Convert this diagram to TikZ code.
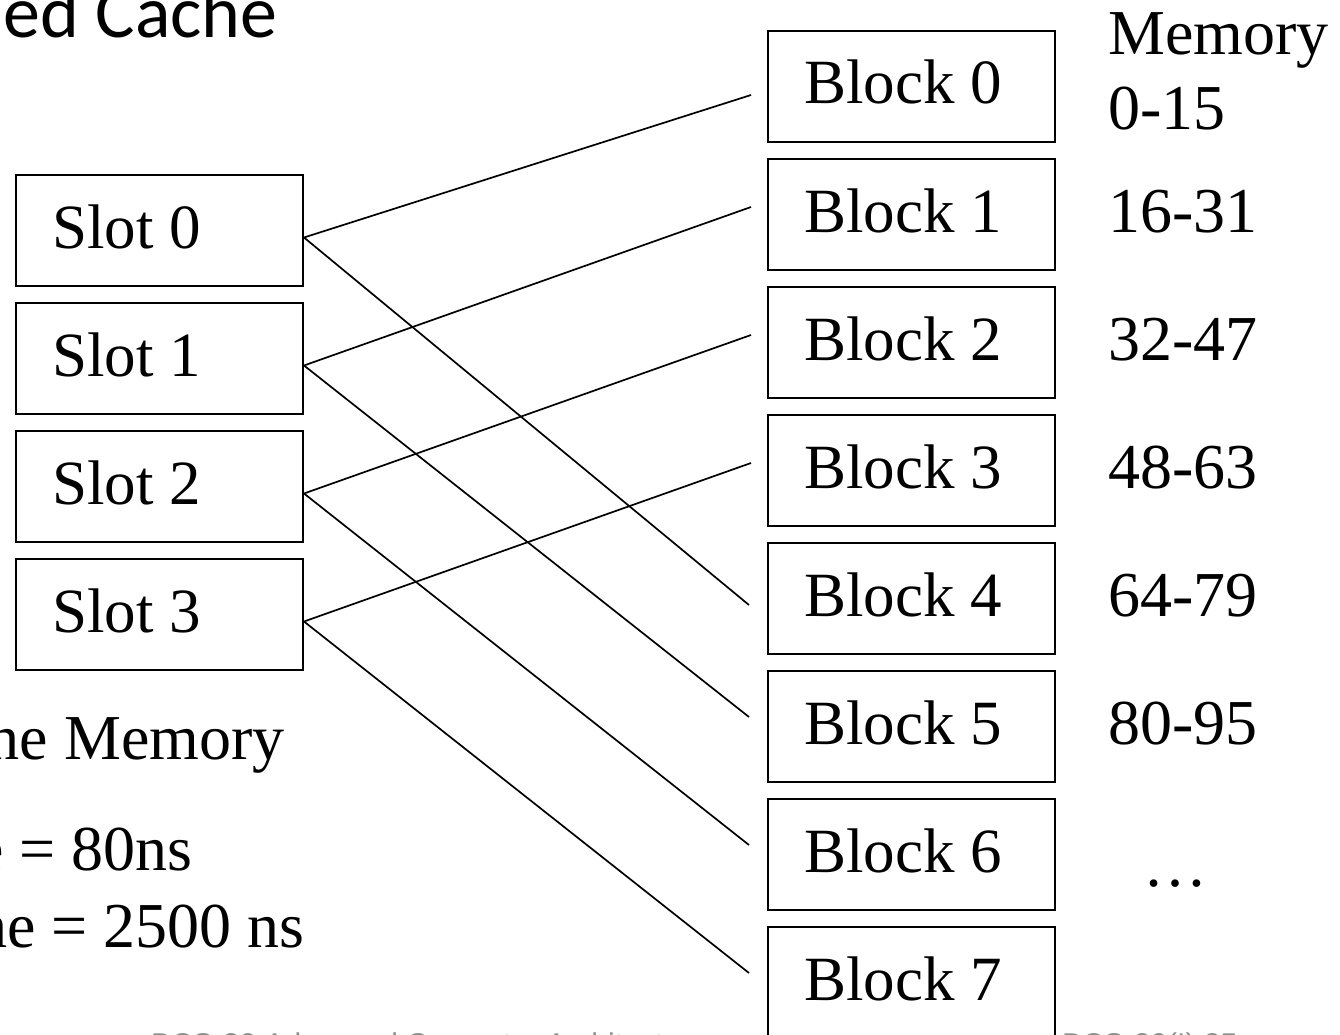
\documentclass[tikz,border=0pt]{standalone}
\usepackage{fontspec}
\usetikzlibrary{calc}
\setmainfont{Liberation Serif}
\newfontfamily\titlefont{Carlito}
\newfontfamily\footfont{Liberation Sans}
\definecolor{footgray}{HTML}{8C8C8C}
\begin{document}
\begin{tikzpicture}[x=1pt,y=-1pt,
  cell/.style={draw=black, line width=2pt, fill=white, rectangle,
    minimum height=111pt, text width=215pt, inner xsep=36pt, inner ysep=0pt,
    align=flush left, text height=35pt, text depth=0pt,
    font=\fontsize{63}{63}\selectfont},
  label/.style={inner sep=0pt, font=\fontsize{64}{64}\selectfont},
  foot/.style={inner sep=0pt, text=footgray, font=\footfont\fontsize{30}{30}\selectfont},
  wire/.style={line width=1.7pt}]
\useasboundingbox (0,0) rectangle (1340,1035);
\clip (0,0) rectangle (1340,1035);

% footer line (partly hidden behind the last block)
\node[foot, anchor=base west] (footl) at (151,1054) {BCS-30 Advanced Computer Architecture};
\node[foot, anchor=base west] (footr) at (1062,1054) {BCS-30(I) 25};

% title
\node[inner sep=0pt, anchor=base west, font=\titlefont\fontsize{74}{74}\selectfont] (title) at (3,38) {ed Cache};

% cache slots
\foreach \i in {0,...,3}
  \node[cell] (s\i) at (159.5,{230.5+128*\i}) {Slot \i};

% memory blocks
\foreach \i in {0,...,7}
  \node[cell] (b\i) at (911.5,{86.5+128*\i}) {Block \i};

% address ranges
\node[label, anchor=base west] (mem) at (1108,55) {Memory};
\node[label, anchor=base west] (r0) at (1108,130) {0-15};
\node[label, anchor=base west] (r1) at (1108,232) {16-31};
\node[label, anchor=base west] (r2) at (1108,360) {32-47};
\node[label, anchor=base west] (r3) at (1108,488) {48-63};
\node[label, anchor=base west] (r4) at (1108,616) {64-79};
\node[label, anchor=base west] (r5) at (1108,744) {80-95};
\node[label, anchor=base west] (dots) at (1143,886) {\dots};

% notes on the left
\node[label, anchor=base east] (n1) at (285,759) {he Memory};
\node[label, anchor=base east] (n2) at (193,870) {e = 80ns};
\node[label, anchor=base east] (n3) at (305,947) {he = 2500 ns};

% mapping end points
\foreach \i in {0,...,3}
  \coordinate (p\i) at ($(s\i.east)+(0,7)$);
\coordinate (q0) at (751,95);
\coordinate (q1) at (751,207);
\coordinate (q2) at (751,335);
\coordinate (q3) at (751,463);
\coordinate (q4) at (749,605);
\coordinate (q5) at (749,717);
\coordinate (q6) at (749,845);
\coordinate (q7) at (749,973);

% block i maps to slot i mod 4
\foreach \i in {0,...,3}{
  \draw[wire] (p\i) -- (q\i);
  \pgfmathtruncatemacro{\j}{\i+4}
  \draw[wire] (p\i) -- (q\j);
}
\end{tikzpicture}
\end{document}
